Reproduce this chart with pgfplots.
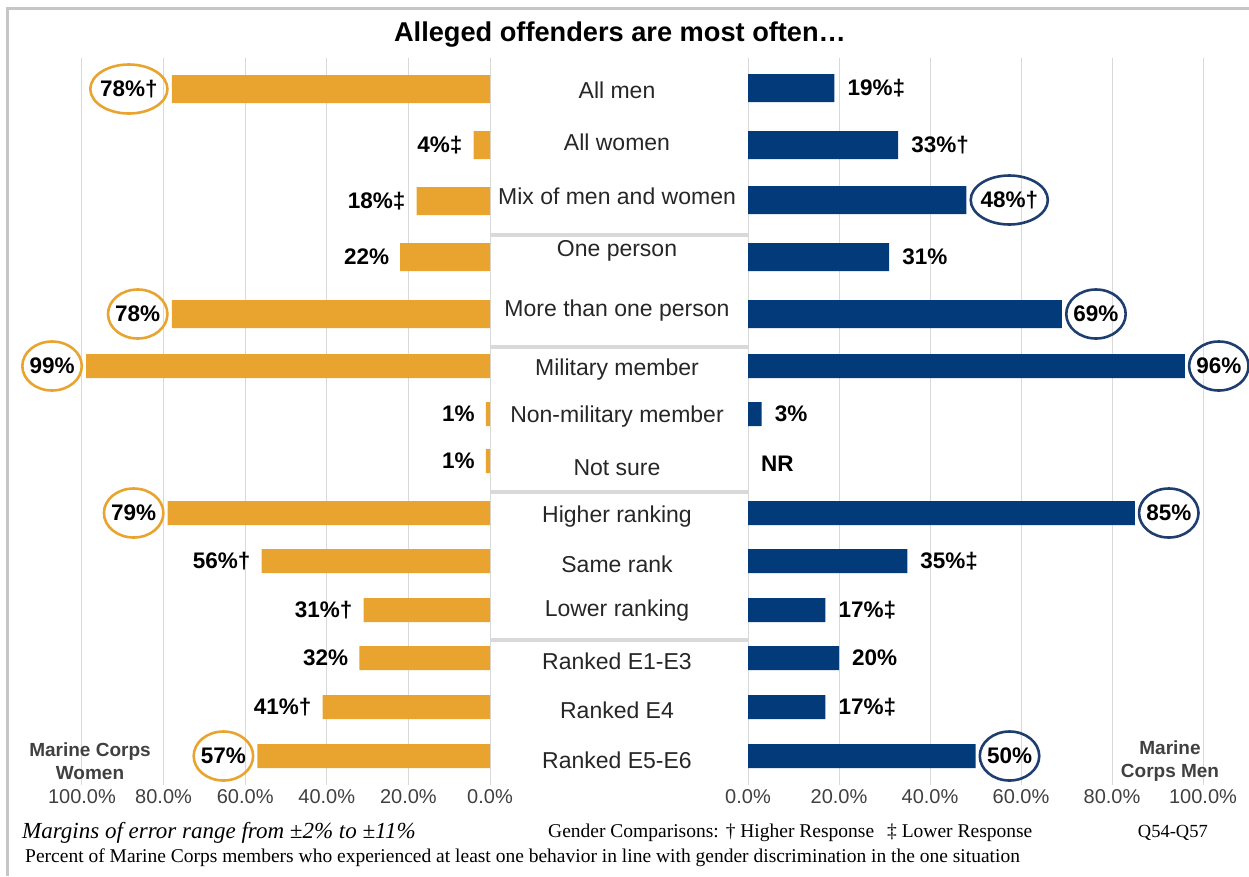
\documentclass[border=0pt]{standalone}
\usepackage{fontspec}
\setmainfont{Liberation Serif}
\setsansfont{Liberation Sans}
\usepackage{pgfplots}
\pgfplotsset{compat=1.18}
\usetikzlibrary{shapes.geometric}

\definecolor{gold}{HTML}{E9A42F}
\definecolor{navy}{HTML}{023A7A}
\definecolor{navyring}{HTML}{1E3E6E}
\definecolor{gridgray}{HTML}{D9D9D9}
\definecolor{txtgray}{HTML}{404040}

\tikzset{
  lbl/.style={font=\sffamily\bfseries\fontsize{22.5}{26}\selectfont, text=black, inner sep=0pt},
  ring/.style={lbl, draw=#1, line width=2.6pt, ellipse, inner xsep=-1.5pt, inner ysep=0pt,
    minimum width=56pt, minimum height=49pt},
}
\pgfplotsset{
  side/.style={
    scale only axis, height=727pt, ymin=58, ymax=785, y dir=reverse,
    xmin=0, xmax=100, clip=false,
    axis line style={draw=none}, major tick length=0pt,
    xtick={0,20,40,60,80,100},
    xticklabels={0.0\%,20.0\%,40.0\%,60.0\%,80.0\%,100.0\%},
    xmajorgrids, grid style={gridgray, line width=1pt},
    xticklabel style={font=\sffamily\fontsize{20}{22}\selectfont, text=txtgray, yshift=-1pt},
  },
}

\begin{document}
\begin{tikzpicture}
\path[use as bounding box] (0,0) rectangle (1249pt,876pt);
\draw[gray!45, line width=3pt] (7pt,0pt) -- (7pt,867pt) -- (1249pt,867pt);

% women (left, reversed)
\begin{axis}[side, at={(82pt,91pt)}, anchor=south west, width=408pt, x dir=reverse, ytick=\empty]
\addplot[xbar, bar shift=0pt, bar width=28, fill=gold, draw=none] coordinates {
  (78,89) (4,145) (18,201) (22,257) (78,314)};
\addplot[xbar, bar shift=0pt, bar width=24, fill=gold, draw=none] coordinates {
  (99,366) (1,414) (1,461) (79,513) (56,561) (31,610) (32,658) (41,707) (57,756)};
\addplot[draw=none, mark=none, point meta=explicit symbolic, nodes near coords,
  nodes near coords style={lbl, anchor=east, xshift=-11pt}] coordinates {
  (4,145) [4\%‡] (18,201) [18\%‡] (22,257) [22\%] (1,414) [1\%] (1,461) [1\%]
  (56,561) [56\%†] (31,610) [31\%†] (32,658) [32\%] (41,707) [41\%†]};
\addplot[draw=none, mark=none, point meta=explicit symbolic, nodes near coords,
  nodes near coords style={ring=gold, anchor=east, xshift=-3pt}] coordinates {
  (78,89) [78\%†] (78,314) [78\%] (99,366) [99\%] (79,513) [79\%] (57,756) [57\%]};
\end{axis}

% men (right)
\begin{axis}[side, at={(748pt,91pt)}, anchor=south west, width=455pt,
  ytick={90,142,196,251,311,370,417,468,517,564,611,661,710,760},
  yticklabels={All men,All women,Mix of men and women,One person,More than one person,
    Military member,Non-military member,Not sure,Higher ranking,Same rank,Lower ranking,
    Ranked E1-E3,Ranked E4,Ranked E5-E6},
  yticklabel style={anchor=center, xshift=-131pt, font=\sffamily\fontsize{23}{26}\selectfont, text=black!85}]
\addplot[xbar, bar shift=0pt, bar width=28, fill=navy, draw=none] coordinates {
  (19,88) (33,145) (48,200) (31,257) (69,314)};
\addplot[xbar, bar shift=0pt, bar width=24, fill=navy, draw=none] coordinates {
  (96,366) (3,414) (85,513) (35,561) (17,610) (20,658) (17,707) (50,756)};
\addplot[draw=none, mark=none, point meta=explicit symbolic, nodes near coords,
  nodes near coords style={lbl, anchor=west, xshift=13pt}] coordinates {
  (19,88) [19\%‡] (33,145) [33\%†] (31,257) [31\%] (3,414) [3\%] (0,464) [NR]
  (35,561) [35\%‡] (17,610) [17\%‡] (20,658) [20\%] (17,707) [17\%‡]};
\addplot[draw=none, mark=none, point meta=explicit symbolic, nodes near coords,
  nodes near coords style={ring=navyring, anchor=west, xshift=3pt}] coordinates {
  (48,200) [48\%†] (69,314) [69\%] (96,366) [96\%] (85,513) [85\%] (50,756) [50\%]};
\end{axis}

% separators in the centre column
\foreach \y in {641,529,384,236}
  \draw[gridgray, line width=4.5pt] (490pt,\y pt) -- (748pt,\y pt);

\node[font=\sffamily\bfseries\fontsize{27.2}{30}\selectfont] at (620pt,841pt) {Alleged offenders are most often…};
\node[font=\sffamily\bfseries\fontsize{19}{23}\selectfont, text=txtgray, align=center] at (90pt,115pt) {Marine Corps\\Women};
\node[font=\sffamily\bfseries\fontsize{19}{23}\selectfont, text=txtgray, align=center] at (1170pt,115pt) {Marine\\Corps Men};

\node[anchor=west, font=\itshape\fontsize{23}{26}\selectfont, inner sep=0pt] at (22pt,43pt) {Margins of error range from ±2\% to ±11\%};
\node[anchor=west, font=\fontsize{19.5}{22}\selectfont, inner sep=0pt] at (548pt,43pt) {Gender Comparisons:\hspace{7pt}† Higher Response\hspace{13pt}‡ Lower Response};
\node[anchor=east, font=\fontsize{18.5}{20}\selectfont, inner sep=0pt] at (1208pt,43pt) {Q54-Q57};
\node[anchor=west, font=\fontsize{19.5}{22}\selectfont, inner sep=0pt] at (25pt,18pt) {Percent of Marine Corps members who experienced at least one behavior in line with gender discrimination in the one situation};
\end{tikzpicture}
\end{document}
